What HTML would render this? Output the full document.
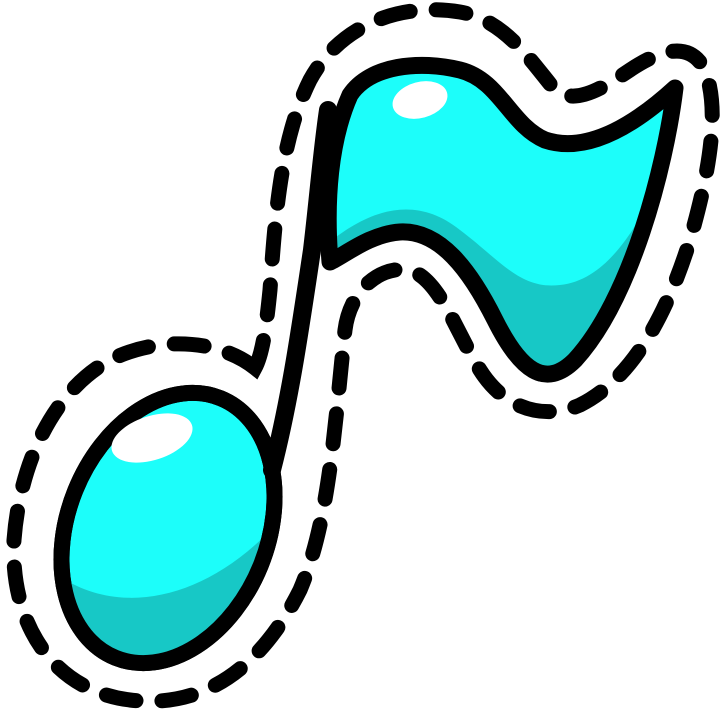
<!DOCTYPE html>
<html><head><meta charset="utf-8"><style>
html,body{margin:0;padding:0;background:#fff;}
svg{display:block;}
</style></head><body>
<svg width="726" height="724" viewBox="0 0 726 724">
<defs>
  <clipPath id="flagClip"><path d="M330,262 C325,200 330,140 350,95 C370,65 420,60 460,70 C500,80 510,125 545,140 C590,155 640,120 675,88 C665,170 630,300 575,360 C545,390 520,370 495,320 C470,270 440,230 400,232 C370,234 345,255 330,262 Z"/></clipPath>
  <clipPath id="headClip"><ellipse cx="168" cy="528" rx="100" ry="140" transform="rotate(22 168 528)"/></clipPath>
</defs>
<path fill="none" stroke="#000" stroke-width="15" stroke-linecap="round" stroke-dasharray="30 26"
 d="M255,368 C220,340 160,335 110,360 C55,390 20,460 14,540 C10,620 50,690 130,700 C210,710 265,660 300,590 C330,520 335,420 345,330 C350,290 380,265 410,270 C440,280 455,330 480,370 C505,410 545,420 580,405 C630,380 665,320 690,240 C710,170 720,110 705,70 C690,40 660,50 630,70 C600,90 575,105 555,90 C530,60 505,20 460,12 C400,2 340,25 310,80 C280,140 275,220 270,290 C266,330 262,355 255,368 Z"/>
<ellipse cx="168" cy="528" rx="100" ry="140" transform="rotate(22 168 528)" fill="#1cfefa" stroke="#000" stroke-width="16"/>
<g clip-path="url(#headClip)"><path d="M40,560 C100,620 200,610 280,520 L300,720 L20,720 Z" fill="#17c8c6"/></g>
<ellipse cx="168" cy="528" rx="100" ry="140" transform="rotate(22 168 528)" fill="none" stroke="#000" stroke-width="16"/>
<path d="M272,470 C290,400 300,330 312,250 C318,200 322,150 328,110" fill="none" stroke="#000" stroke-width="18" stroke-linecap="round"/>
<path d="M330,262 C325,200 330,140 350,95 C370,65 420,60 460,70 C500,80 510,125 545,140 C590,155 640,120 675,88 C665,170 630,300 575,360 C545,390 520,370 495,320 C470,270 440,230 400,232 C370,234 345,255 330,262 Z" fill="#1cfefa"/>
<g clip-path="url(#flagClip)"><path d="M320,250 C360,215 410,190 460,230 C500,260 520,290 560,285 C610,280 640,220 660,180 L700,420 L320,420 Z" fill="#17c8c6"/></g>
<path d="M330,262 C325,200 330,140 350,95 C370,65 420,60 460,70 C500,80 510,125 545,140 C590,155 640,120 675,88 C665,170 630,300 575,360 C545,390 520,370 495,320 C470,270 440,230 400,232 C370,234 345,255 330,262 Z" fill="none" stroke="#000" stroke-width="17" stroke-linejoin="round"/>
<ellipse cx="152" cy="438" rx="42" ry="22" transform="rotate(-18 152 438)" fill="#fff"/>
<ellipse cx="420" cy="100" rx="28" ry="18" transform="rotate(-15 420 100)" fill="#fff"/>
</svg>
</body></html>
